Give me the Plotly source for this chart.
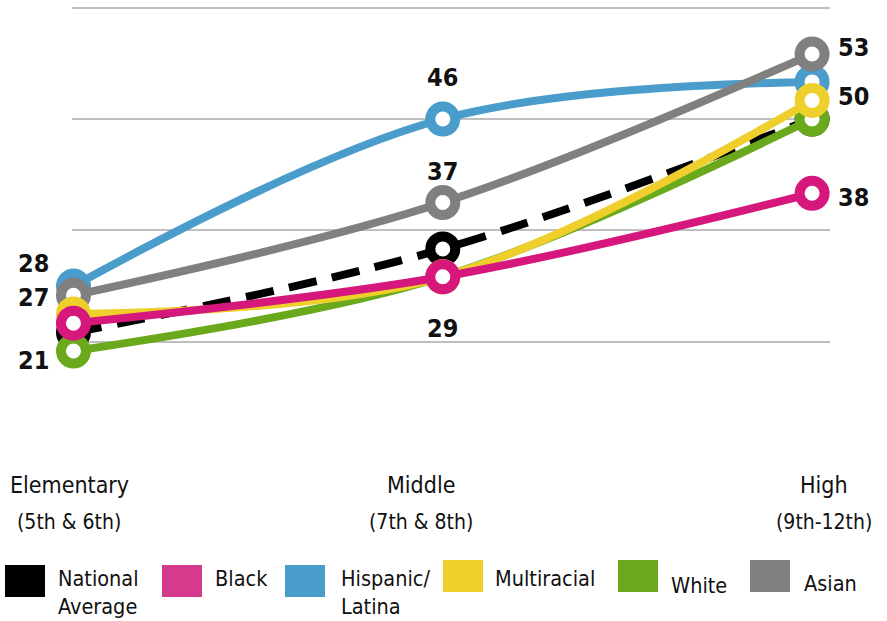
import plotly.graph_objects as go

# School levels (x positions) and their two-line captions
levels = [0, 1, 2]
level_names = ["Elementary", "Middle", "High"]
grade_names = ["(5th & 6th)", "(7th & 8th)", "(9th-12th)"]

# Percent values per group at each school level
national_avg = [23, 32, 46]
black = [24, 29, 38]
hispanic = [28, 46, 50]
multiracial = [25, 29, 48]
white = [21, 29, 46]
asian = [27, 37, 53]

grid_values = [22, 34, 46, 58]

W, H = 887, 621
ML, MR, MT, MB = 72, 57, 3, 205
PW, PH = W - ML - MR, H - MT - MB

FONT = "DejaVu Sans Condensed, Liberation Sans Narrow, Roboto, sans-serif"

COLORS = {
    "National Average": "#000000",
    "Black": "#d6177c",
    "Hispanic/Latina": "#4a9dcb",
    "Multiracial": "#efcf2c",
    "White": "#6aa91b",
    "Asian": "#808080",
}

# drawing order: bottom to top
series = [
    ("National Average", national_avg, True),
    ("Hispanic/Latina", hispanic, False),
    ("Asian", asian, False),
    ("White", white, False),
    ("Multiracial", multiracial, False),
    ("Black", black, False),
]

fig = go.Figure()
for name, vals, dashed in series:
    col = COLORS[name]
    fig.add_trace(go.Scatter(
        x=levels, y=vals, name=name, mode="lines+markers",
        line=dict(color=col, width=8, shape="spline", smoothing=1.0,
                  dash="28px,16px" if dashed else "solid"),
        marker=dict(size=25, color="white", line=dict(color=col, width=10)),
        cliponaxis=False, showlegend=False, hoverinfo="skip",
    ))

# value labels placed next to their points (value, level index, shifts in px)
value_labels = [
    (hispanic, 0, -40, 23),
    (asian, 0, -40, -2),
    (white, 0, -40, -9),
    (hispanic, 1, 0, 42),
    (asian, 1, 0, 31),
    (black, 1, 0, -52),
    (asian, 2, 41, 7),
    (hispanic, 2, 41, -15),
    (black, 2, 41, -4),
]
annotations = []
for vals, i, dx, dy in value_labels:
    annotations.append(dict(
        x=levels[i], y=vals[i], xref="x", yref="y", text=str(vals[i]),
        showarrow=False, xshift=dx, yshift=dy,
        font=dict(family=FONT, size=25, color="#111111", weight="bold"),
    ))


def px_x(px):
    return (px - ML) / PW


def px_y(py):
    return (H - MB - py) / PH


# level captions under the plot
caption_x = [69, 421, 824]
for cx, n1, n2 in zip(caption_x, level_names, grade_names):
    annotations.append(dict(x=px_x(cx), y=px_y(485), xref="paper", yref="paper",
                            text=n1, showarrow=False, xanchor="center", yanchor="middle",
                            font=dict(family=FONT, size=23, color="#111111")))
    annotations.append(dict(x=px_x(cx), y=px_y(522), xref="paper", yref="paper",
                            text=n2, showarrow=False, xanchor="center", yanchor="middle",
                            font=dict(family=FONT, size=21, color="#111111")))

# legend: colour swatches with labels
legend_items = [
    ("National Average", "National<br>Average", 5, 565, 56, 592, "#000000"),
    ("Black", "Black", 162, 565, 213, 578, "#d63a8c"),
    ("Hispanic/Latina", "Hispanic/<br>Latina", 285, 565, 339, 592, "#4a9dcb"),
    ("Multiracial", "Multiracial", 443, 560, 493, 578, "#efcf2c"),
    ("White", "White", 618, 560, 669, 585, "#6aa91b"),
    ("Asian", "Asian", 750, 560, 802, 583, "#808080"),
]
shapes = []
for _, label, sx, sy, tx, ty, col in legend_items:
    shapes.append(dict(type="rect", xref="paper", yref="paper",
                       x0=px_x(sx), x1=px_x(sx + 40), y0=px_y(sy), y1=px_y(sy + 32),
                       fillcolor=col, line=dict(width=0), layer="above"))
    annotations.append(dict(x=px_x(tx), y=px_y(ty), xref="paper", yref="paper",
                            text=label, showarrow=False, xanchor="left", yanchor="middle",
                            align="left",
                            font=dict(family=FONT, size=21.5, color="#111111")))

fig.update_layout(
    width=W, height=H,
    margin=dict(l=ML, r=MR, t=MT, b=MB, pad=0),
    paper_bgcolor="white", plot_bgcolor="white",
    xaxis=dict(range=[-0.004, 2.0485], showgrid=False, zeroline=False,
               showticklabels=False, showline=False, fixedrange=True),
    yaxis=dict(range=[14, 58.5], tickvals=grid_values, showticklabels=False,
               showgrid=True, gridcolor="#bfbfbf", gridwidth=2,
               zeroline=False, showline=False, fixedrange=True),
    annotations=annotations,
    shapes=shapes,
    showlegend=False,
)

fig.write_html("out.html")
